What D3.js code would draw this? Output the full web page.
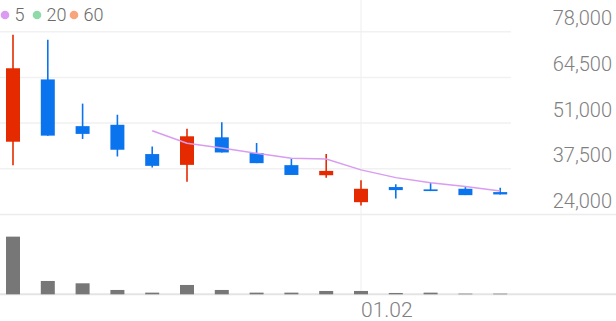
<!DOCTYPE html>
<html>
<head>
<meta charset="utf-8">
<script src="https://cdn.jsdelivr.net/npm/d3@7"></script>
<style>
  body { margin: 0; background: #fff; }
  text { font-family: Roboto, "Noto Sans", sans-serif; }
</style>
</head>
<body>
<div id="chart"></div>
<script>
var dates = ["12.16", "12.17", "12.18", "12.19", "12.20", "12.23", "12.24", "12.26", "12.27", "12.30", "01.02", "01.03", "01.06", "01.07", "01.08"];
var opens = [45500, 63900, 50100, 50500, 41850, 38660, 46800, 42150, 38580, 35600, 27640, 32110, 31420, 31600, 30620];
var highs = [77100, 75600, 56750, 53470, 44120, 49300, 51270, 45130, 40540, 41850, 34100, 32910, 33390, 32110, 31900];
var lows = [38570, 47300, 46320, 41140, 37860, 33690, 42330, 39170, 35680, 34880, 26650, 28740, 30920, 29720, 29930];
var closes = [67200, 47300, 47810, 43130, 38370, 47100, 42330, 39170, 35680, 36880, 31600, 31210, 30920, 29720, 29930];
var ma5 = [null, null, null, null, 48760, 45070, 43640, 42090, 40600, 40360, 37180, 34890, 33400, 32270, 30930];
var volumes = [1730, 400, 330, 130, 50, 280, 130, 50, 50, 100, 100, 40, 50, 20, 20];
var priceTicks = [24000, 37500, 51000, 64500, 78000];
var xLabels = ["01.02"];
var legendItems = [{ label: "5", color: "#d99cf0" }, { label: "20", color: "#8fdaa8" }, { label: "60", color: "#f8a47c" }];

var width = 616, height = 321;
var upColor = "#e52a00", downColor = "#0a74ee";

var svg = d3.select("#chart")
  .append("svg")
  .attr("width", width)
  .attr("height", height);

var x = d3.scaleBand()
  .domain(dates)
  .range([-4.4, 517.6])
  .padding(0);

var cx = function (d) { return x(d) + x.bandwidth() / 2; };

var y = d3.scaleLinear()
  .domain([24000, 78000])
  .range([214.5, 31.7]);

var yVol = d3.scaleLinear()
  .domain([0, 2160])
  .range([294.3, 222.3]);

// grid lines
svg.selectAll(".grid")
  .data(priceTicks.slice(1))
  .enter().append("line")
  .attr("x1", 0).attr("x2", 511)
  .attr("y1", function (d) { return y(d); })
  .attr("y2", function (d) { return y(d); })
  .style("stroke", "#f1f1f1")
  .style("stroke-width", 1.5);

svg.append("line")
  .attr("x1", 0).attr("x2", width)
  .attr("y1", y(24000)).attr("y2", y(24000))
  .style("stroke", "#ececec")
  .style("stroke-width", 1.5);

svg.selectAll(".vgrid")
  .data(xLabels)
  .enter().append("line")
  .attr("x1", function (d) { return cx(d); })
  .attr("x2", function (d) { return cx(d); })
  .attr("y1", 0).attr("y2", 295)
  .style("stroke", "#eeeeee")
  .style("stroke-width", 1);

// y axis labels
svg.selectAll(".ylab")
  .data(priceTicks)
  .enter().append("text")
  .attr("x", 612)
  .attr("y", function (d) { return y(d) - 6.5; })
  .attr("text-anchor", "end")
  .style("font-size", "20px")
  .style("font-weight", 300)
  .style("fill", "#808080")
  .text(function (d) { return d3.format(",")(d); });

// x labels
svg.selectAll(".xlab")
  .data(xLabels)
  .enter().append("text")
  .attr("x", function (d) { return cx(d); })
  .attr("y", 317)
  .style("font-size", "21px")
  .style("font-weight", 300)
  .style("fill", "#808080")
  .text(function (d) { return d; });

// volume
svg.append("line")
  .attr("x1", 0).attr("x2", width)
  .attr("y1", yVol(0)).attr("y2", yVol(0))
  .style("stroke", "#e4e4e4")
  .style("stroke-width", 2);

svg.selectAll(".vol")
  .data(volumes)
  .enter().append("rect")
  .attr("x", function (d, i) { return cx(dates[i]) - 7; })
  .attr("width", 14)
  .attr("y", function (d) { return yVol(d); })
  .attr("height", function (d) { return yVol(0) - yVol(d); })
  .style("fill", "#777777");

// candles
var candles = dates.map(function (d, i) {
  return { date: d, open: opens[i], high: highs[i], low: lows[i], close: closes[i] };
});

var colorOf = function (d) { return d.close >= d.open ? upColor : downColor; };

svg.selectAll(".wick")
  .data(candles)
  .enter().append("line")
  .attr("x1", function (d) { return cx(d.date); })
  .attr("x2", function (d) { return cx(d.date); })
  .attr("y1", function (d) { return y(d.high); })
  .attr("y2", function (d) { return y(d.low); })
  .style("stroke", colorOf)
  .style("stroke-width", 1.6);

svg.selectAll(".body")
  .data(candles)
  .enter().append("rect")
  .attr("x", function (d) { return cx(d.date) - 7; })
  .attr("width", 14)
  .attr("y", function (d) { return y(Math.max(d.open, d.close)); })
  .attr("height", function (d) { return Math.max(1.5, Math.abs(y(d.open) - y(d.close))); })
  .style("fill", colorOf);

// moving average
var line = d3.line()
  .defined(function (d) { return d != null; })
  .x(function (d, i) { return cx(dates[i]); })
  .y(function (d) { return y(d); });

svg.append("path")
  .datum(ma5)
  .attr("d", line)
  .style("fill", "none")
  .style("stroke", legendItems[0].color)
  .style("stroke-width", 1.5);

// legend
var lx = [5, 37, 74];
var legend = svg.selectAll(".legend")
  .data(legendItems)
  .enter().append("g")
  .attr("transform", function (d, i) { return "translate(" + lx[i] + ",15)"; });

legend.append("circle")
  .attr("r", 4.3)
  .style("fill", function (d) { return d.color; });

legend.append("text")
  .attr("x", 9.5)
  .attr("y", 6.3)
  .style("font-size", "18px")
  .style("font-weight", 300)
  .style("fill", "#6a6a6a")
  .text(function (d) { return d.label; });
</script>
</body>
</html>
